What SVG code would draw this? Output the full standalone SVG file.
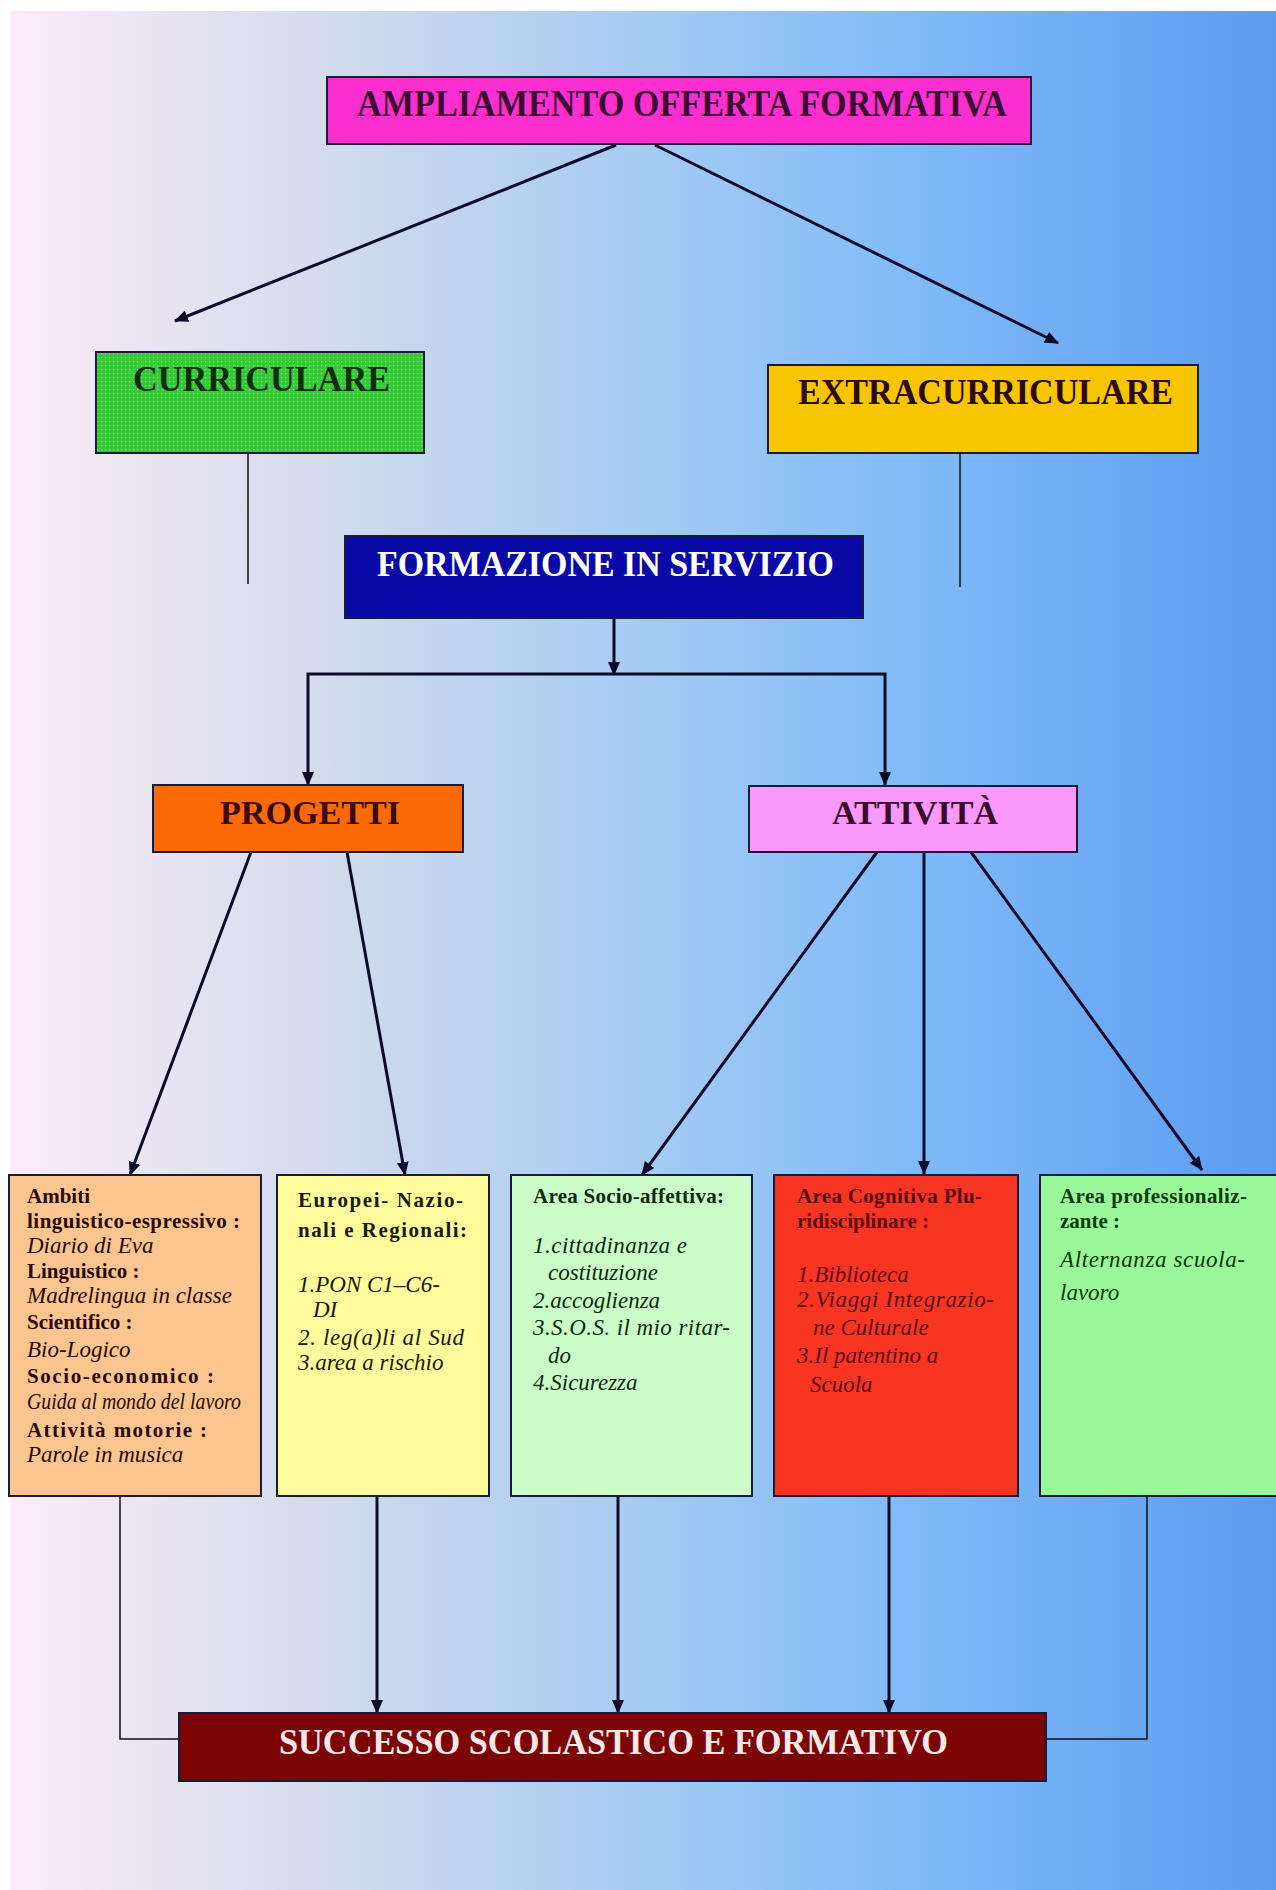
<svg xmlns="http://www.w3.org/2000/svg" width="1276" height="1890" viewBox="0 0 1276 1890">
<defs>
<linearGradient id="bg" x1="0" y1="0" x2="1" y2="0">
<stop offset="0" stop-color="#fcecf8"/>
<stop offset="0.25" stop-color="#d3dbec"/>
<stop offset="0.5" stop-color="#a5cbf2"/>
<stop offset="0.7" stop-color="#82bcf8"/>
<stop offset="1" stop-color="#5c9bf0"/>
</linearGradient>
<pattern id="dots" width="4" height="4" patternUnits="userSpaceOnUse">
<rect width="4" height="4" fill="#36c936"/>
<rect x="1" y="1" width="1.3" height="1.3" fill="#7fe07f"/>
</pattern>
<marker id="ah" markerUnits="userSpaceOnUse" markerWidth="14" markerHeight="12" refX="13" refY="6" orient="auto">
<path d="M0,0 L14,6 L0,12 z" fill="#0c0c2a"/>
</marker>
<style>
.box{stroke:#1a1a3a;stroke-width:2}
.t{font-family:"Liberation Serif","Times New Roman",serif;font-weight:bold}
.b{font-family:"Liberation Serif","Times New Roman",serif;font-weight:bold;font-size:21px}
.i{font-family:"Liberation Serif","Times New Roman",serif;font-style:italic;font-size:23px}
.thin{stroke:#111;stroke-width:1.5;fill:none}
.thick{stroke:#0c0c2a;stroke-width:3;fill:none}
</style>
</defs>
<rect x="0" y="0" width="1276" height="1890" fill="#ffffff"/>
<rect x="10" y="11" width="1266" height="1879" fill="url(#bg)"/>

<g id="connectors">
<line class="thick" x1="616" y1="145" x2="175" y2="321" marker-end="url(#ah)"/>
<line class="thick" x1="655" y1="145" x2="1058" y2="343" marker-end="url(#ah)"/>
<line class="thin" x1="248" y1="454" x2="248" y2="584"/>
<line class="thin" x1="960" y1="454" x2="960" y2="587"/>
<line class="thick" x1="614" y1="618" x2="614" y2="675" marker-end="url(#ah)"/>
<path class="thick" d="M614,674 H308 V785" marker-end="url(#ah)"/>
<path class="thick" d="M614,674 H885 V785" marker-end="url(#ah)"/>
<line class="thick" x1="251" y1="852" x2="130" y2="1175" marker-end="url(#ah)"/>
<line class="thick" x1="347" y1="852" x2="405" y2="1175" marker-end="url(#ah)"/>
<line class="thick" x1="877" y1="852" x2="642" y2="1175" marker-end="url(#ah)"/>
<line class="thick" x1="924" y1="852" x2="924" y2="1174" marker-end="url(#ah)"/>
<line class="thick" x1="971" y1="852" x2="1202" y2="1170" marker-end="url(#ah)"/>
<polyline class="thin" points="120,1496 120,1739 179,1739"/>
<polyline class="thin" points="1147,1496 1147,1739 1046,1739"/>
<line class="thick" x1="377" y1="1496" x2="377" y2="1713" marker-end="url(#ah)"/>
<line class="thick" x1="618" y1="1496" x2="618" y2="1713" marker-end="url(#ah)"/>
<line class="thick" x1="889" y1="1496" x2="889" y2="1713" marker-end="url(#ah)"/>
</g>

<g id="ampliamento">
<rect class="box" x="327" y="77" width="704" height="67" fill="#fb2fd0"/>
<text class="t" x="357" y="116" font-size="38" fill="#3a0a30" textLength="650" lengthAdjust="spacingAndGlyphs">AMPLIAMENTO OFFERTA FORMATIVA</text>
</g>

<g id="curriculare">
<rect class="box" x="96" y="352" width="328" height="101" fill="url(#dots)"/>
<text class="t" x="133" y="391" font-size="35" fill="#0a300a" textLength="257" lengthAdjust="spacingAndGlyphs">CURRICULARE</text>
</g>

<g id="extracurriculare">
<rect class="box" x="768" y="365" width="430" height="88" fill="#f8c600"/>
<text class="t" x="798" y="404" font-size="36" fill="#2a0a0a" textLength="375" lengthAdjust="spacingAndGlyphs">EXTRACURRICULARE</text>
</g>

<g id="formazione">
<rect class="box" x="345" y="536" width="518" height="82" fill="#0a0aa6"/>
<text class="t" x="377" y="576" font-size="36" fill="#ffffff" textLength="457" lengthAdjust="spacingAndGlyphs">FORMAZIONE IN SERVIZIO</text>
</g>

<g id="progetti">
<rect class="box" x="153" y="785" width="310" height="67" fill="#fc6a08"/>
<text class="t" x="220" y="824" font-size="34" fill="#3a0a00" textLength="180" lengthAdjust="spacingAndGlyphs">PROGETTI</text>
</g>

<g id="attivita">
<rect class="box" x="749" y="786" width="328" height="66" fill="#fb98fb"/>
<text class="t" x="832" y="824" font-size="34" fill="#3a0a2a" textLength="166" lengthAdjust="spacingAndGlyphs">ATTIVITÀ</text>
</g>

<g id="ambiti">
<rect class="box" x="9" y="1175" width="252" height="321" fill="#fbc590"/>
<g fill="#2a0a00">
<text class="b" x="27" y="1203" font-size="22px">Ambiti</text>
<text class="b" x="27" y="1228" font-size="22px" textLength="213" lengthAdjust="spacing">linguistico-espressivo :</text>
<text class="i" x="27" y="1253" font-size="19px">Diario di Eva</text>
<text class="b" x="27" y="1278" font-size="22px">Linguistico :</text>
<text class="i" x="27" y="1303" font-size="19px">Madrelingua in classe</text>
<text class="b" x="27" y="1329" font-size="22px">Scientifico :</text>
<text class="i" x="27" y="1357" font-size="19px">Bio-Logico</text>
<text class="b" x="27" y="1383" font-size="22px" textLength="187" lengthAdjust="spacing">Socio-economico :</text>
<text class="i" x="27" y="1409" font-size="17px" textLength="214" lengthAdjust="spacingAndGlyphs">Guida al mondo del lavoro</text>
<text class="b" x="27" y="1437" font-size="22px" textLength="180" lengthAdjust="spacing">Attività motorie :</text>
<text class="i" x="27" y="1462" font-size="19px">Parole in musica</text>
</g>
</g>

<g id="europei">
<rect class="box" x="277" y="1175" width="212" height="321" fill="#fdfb9c"/>
<g fill="#1a1a00">
<text class="b" x="298" y="1207" font-size="23.5px" textLength="165" lengthAdjust="spacing">Europei- Nazio-</text>
<text class="b" x="298" y="1237" font-size="23.5px" textLength="169" lengthAdjust="spacing">nali e Regionali:</text>
<text class="i" x="298" y="1292" font-size="23.5px">1.PON C1–C6-</text>
<text class="i" x="313" y="1317" font-size="23.5px">DI</text>
<text class="i" x="298" y="1345" font-size="23.5px" textLength="166" lengthAdjust="spacing">2. leg(a)li al Sud</text>
<text class="i" x="298" y="1370" font-size="23.5px">3.area a rischio</text>
</g>
</g>

<g id="socio-affettiva">
<rect class="box" x="511" y="1175" width="241" height="321" fill="#ccfcc8"/>
<g fill="#0a2a0a">
<text class="b" x="533" y="1203" textLength="191" lengthAdjust="spacing">Area Socio-affettiva:</text>
<text class="i" x="533" y="1253" textLength="154" lengthAdjust="spacing">1.cittadinanza e</text>
<text class="i" x="548" y="1280">costituzione</text>
<text class="i" x="533" y="1308">2.accoglienza</text>
<text class="i" x="533" y="1335" textLength="197" lengthAdjust="spacing">3.S.O.S. il mio ritar-</text>
<text class="i" x="548" y="1363">do</text>
<text class="i" x="533" y="1390">4.Sicurezza</text>
</g>
</g>

<g id="cognitiva">
<rect class="box" x="774" y="1175" width="244" height="321" fill="#f83522" stroke="#3a1060"/>
<g fill="#5a0808">
<text class="b" x="797" y="1203" textLength="185" lengthAdjust="spacing">Area Cognitiva Plu-</text>
<text class="b" x="797" y="1228">ridisciplinare :</text>
<text class="i" x="797" y="1282">1.Biblioteca</text>
<text class="i" x="797" y="1307" textLength="197" lengthAdjust="spacing">2.Viaggi Integrazio-</text>
<text class="i" x="813" y="1335">ne Culturale</text>
<text class="i" x="797" y="1363">3.Il patentino a</text>
<text class="i" x="810" y="1392">Scuola</text>
</g>
</g>

<g id="professionalizzante">
<rect class="box" x="1040" y="1175" width="240" height="321" fill="#9af89a"/>
<g fill="#063a06">
<text class="b" x="1060" y="1203" textLength="187" lengthAdjust="spacing">Area professionaliz-</text>
<text class="b" x="1060" y="1228">zante :</text>
<text class="i" x="1060" y="1267" textLength="185" lengthAdjust="spacing">Alternanza scuola-</text>
<text class="i" x="1060" y="1300">lavoro</text>
</g>
</g>

<g id="successo">
<rect class="box" x="179" y="1713" width="867" height="68" fill="#7c0404"/>
<text class="t" x="279" y="1754" font-size="35" fill="#fde8ea" textLength="669" lengthAdjust="spacingAndGlyphs">SUCCESSO SCOLASTICO E FORMATIVO</text>
</g>
</svg>
